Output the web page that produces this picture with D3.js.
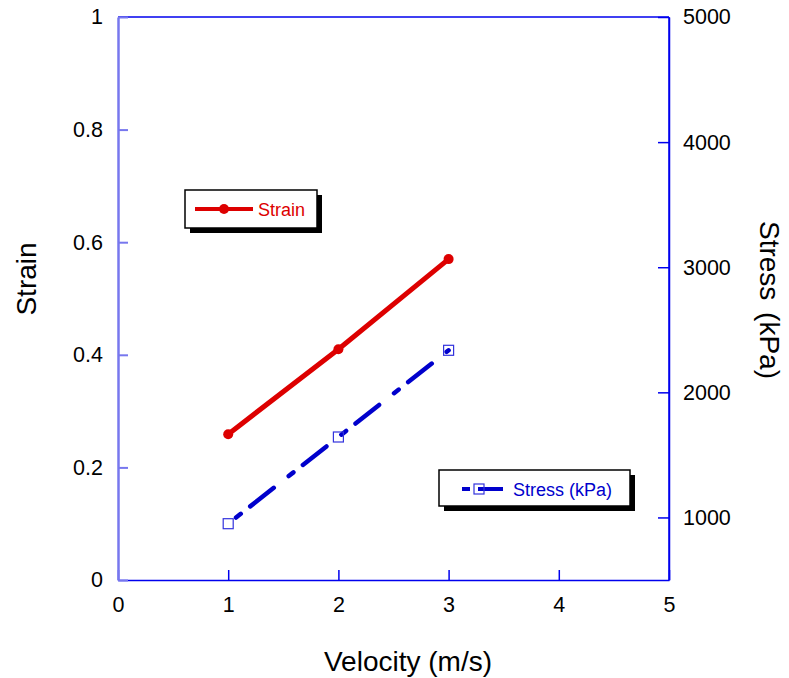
<!DOCTYPE html>
<html>
<head>
<meta charset="utf-8">
<script src="https://cdn.jsdelivr.net/npm/d3@7"></script>
<style>
  html, body { margin: 0; padding: 0; background: #fff; }
  svg { display: block; font-family: "Liberation Sans", Arial, sans-serif; }
</style>
</head>
<body>
<svg id="chart" width="789" height="678"></svg>
<script>
// ---- data ----
const velocity = [1, 2, 3];
const strain = [0.259, 0.41, 0.57];
const stress = [950, 1643, 2336];
const xTicks = [0, 1, 2, 3, 4, 5];
const yLeftTicks = [0, 0.2, 0.4, 0.6, 0.8, 1];
const yRightTicks = [1000, 2000, 3000, 4000, 5000];
const xTitle = "Velocity (m/s)";
const yLeftTitle = "Strain";
const yRightTitle = "Stress (kPa)";
const strainLabel = "Strain";
const stressLabel = "Stress (kPa)";

// ---- layout ----
const L = 118, R = 669, T = 17, B = 580;
const svg = d3.select("#chart");
const x = d3.scaleLinear().domain([0, 5]).range([L, R]);
const yL = d3.scaleLinear().domain([0, 1]).range([B, T]);
const yR = d3.scaleLinear().domain([500, 5000]).range([B, T]);

const axisBlue = "#0000ee";
const red = "#dd0000";
const blue = "#0000cc";

// frame
svg.append("line").attr("x1", L).attr("x2", R).attr("y1", T).attr("y2", T)
  .attr("stroke", axisBlue).attr("stroke-width", 1.5);
svg.append("line").attr("x1", R).attr("x2", R).attr("y1", T).attr("y2", B)
  .attr("stroke", axisBlue).attr("stroke-width", 1.5);

// axes with inward ticks
const fmtL = d => d === 0 ? "0" : d === 1 ? "1" : d3.format(".1f")(d);
const gx = svg.append("g").attr("transform", `translate(0,${B})`)
  .call(d3.axisBottom(x).tickValues(xTicks).tickSizeInner(-10).tickSizeOuter(0).tickPadding(17).tickFormat(d3.format("d")));
const gyl = svg.append("g").attr("transform", `translate(${L},0)`)
  .call(d3.axisLeft(yL).tickValues(yLeftTicks).tickSizeInner(-10).tickSizeOuter(0).tickPadding(15).tickFormat(fmtL));
const gyr = svg.append("g").attr("transform", `translate(${R},0)`)
  .call(d3.axisRight(yR).tickValues(yRightTicks).tickSizeInner(-11).tickSizeOuter(0).tickPadding(14).tickFormat(d3.format("d")));

[gx, gyl, gyr].forEach(g => {
  g.selectAll("text").attr("font-size", 21.5).attr("fill", "#000")
    .attr("font-family", "'Liberation Sans', Arial, sans-serif");
  g.selectAll(".tick line").attr("stroke", axisBlue).attr("stroke-width", 1.5);
  g.select(".domain").attr("stroke", axisBlue).attr("stroke-width", 1.5);
});
gyl.select(".domain").attr("stroke", "#7777ee").attr("stroke-width", 2.5);
gyl.selectAll(".tick line").attr("stroke", "#7777ee").attr("stroke-width", 2);
gx.selectAll("text").attr("dy", "0.71em");

// titles
svg.append("text").attr("x", 408).attr("y", 671).attr("text-anchor", "middle")
  .attr("font-size", 28).text(xTitle);
svg.append("text").attr("transform", `translate(36,279) rotate(-90)`)
  .attr("text-anchor", "middle").attr("font-size", 28).text(yLeftTitle);
svg.append("text").attr("transform", `translate(760,300) rotate(90)`)
  .attr("text-anchor", "middle").attr("font-size", 28).attr("word-spacing", 4).text(yRightTitle);

// strain series
const strainData = velocity.map((v, i) => ({ v, s: strain[i] }));
svg.append("path").datum(strainData)
  .attr("d", d3.line().x(d => x(d.v)).y(d => yL(d.s)))
  .attr("fill", "none").attr("stroke", red).attr("stroke-width", 5).attr("stroke-linecap", "round");
svg.selectAll(".strainPt").data(strainData).enter().append("circle")
  .attr("cx", d => x(d.v)).attr("cy", d => yL(d.s)).attr("r", 5).attr("fill", red);

// stress series
const stressData = velocity.map((v, i) => ({ v, p: stress[i] }));
svg.append("path").datum(stressData)
  .attr("d", d3.line().x(d => x(d.v)).y(d => yR(d.p)))
  .attr("fill", "none").attr("stroke", blue).attr("stroke-width", 4.5)
  .attr("stroke-linecap", "round").attr("stroke-dasharray", "6,12,30,19")
  .attr("stroke-dashoffset", -10);
svg.selectAll(".stressPt").data(stressData).enter().append("rect")
  .attr("x", d => x(d.v) - 5).attr("y", d => yR(d.p) - 5).attr("width", 10).attr("height", 10)
  .attr("fill", "none").attr("stroke", "#3333dd").attr("stroke-width", 1.2);

// legends
function legend(x0, y0, w, h, color, label, marker) {
  const g = svg.append("g");
  g.append("rect").attr("x", x0 + 5).attr("y", y0 + 5).attr("width", w).attr("height", h).attr("fill", "#000");
  g.append("rect").attr("x", x0).attr("y", y0).attr("width", w).attr("height", h)
    .attr("fill", "#fff").attr("stroke", "#000").attr("stroke-width", 1.5);
  return g;
}
const lg1 = legend(185, 190, 132, 38);
lg1.append("line").attr("x1", 195).attr("x2", 253).attr("y1", 209).attr("y2", 209)
  .attr("stroke", red).attr("stroke-width", 4);
lg1.append("circle").attr("cx", 224).attr("cy", 209).attr("r", 5).attr("fill", red);
lg1.append("text").attr("x", 258).attr("y", 215.5).attr("font-size", 18).attr("fill", red).text(strainLabel);

const lg2 = legend(439, 470, 191, 36);
lg2.append("line").attr("x1", 462).attr("x2", 470).attr("y1", 489).attr("y2", 489)
  .attr("stroke", blue).attr("stroke-width", 4);
lg2.append("line").attr("x1", 478).attr("x2", 503).attr("y1", 489).attr("y2", 489)
  .attr("stroke", blue).attr("stroke-width", 4);
lg2.append("rect").attr("x", 474).attr("y", 484).attr("width", 10).attr("height", 10)
  .attr("fill", "none").attr("stroke", "#3333dd").attr("stroke-width", 1.2);
lg2.append("text").attr("x", 513).attr("y", 495.5).attr("font-size", 18).attr("fill", blue).text(stressLabel);
</script>
</body>
</html>
